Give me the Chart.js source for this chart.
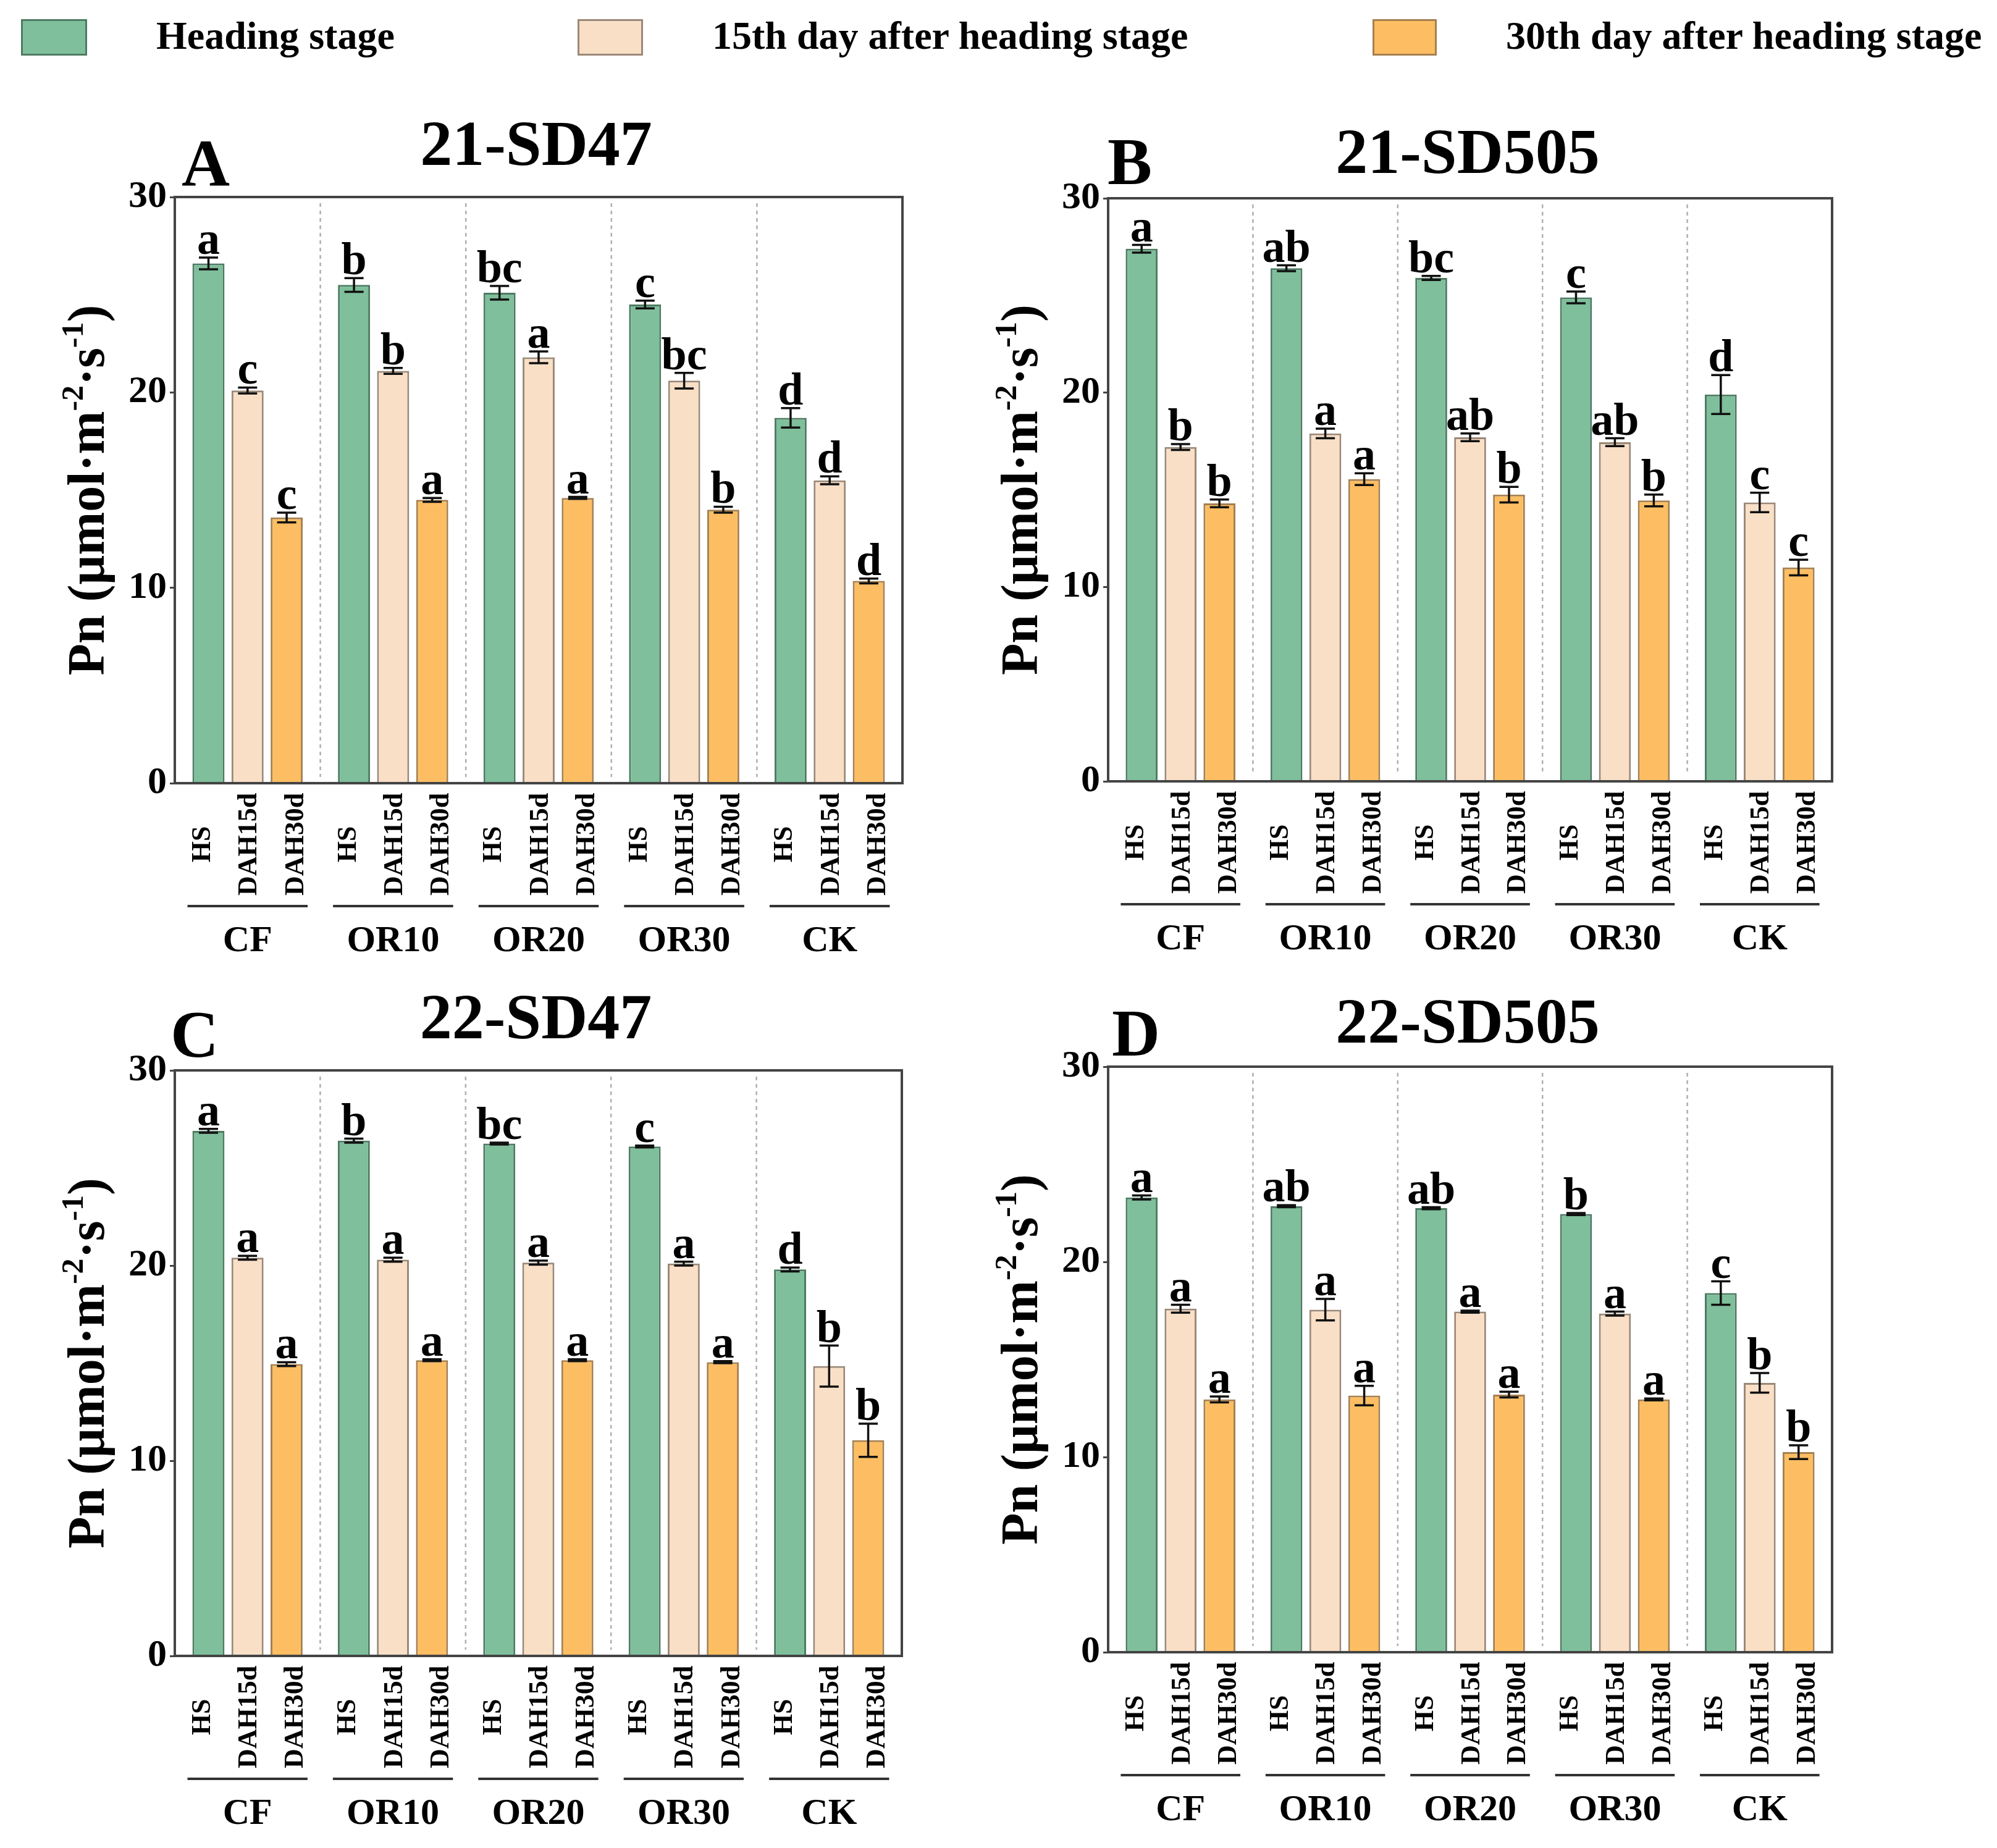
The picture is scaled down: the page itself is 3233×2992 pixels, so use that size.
<!DOCTYPE html>
<html><head><meta charset="utf-8">
<script src="https://cdn.jsdelivr.net/npm/chart.js@4.4.1/dist/chart.umd.min.js"></script>
<style>
html,body{margin:0;padding:0;background:#fff;width:3233px;height:2992px;overflow:hidden;position:relative;}
canvas{position:absolute;}
.lg-box{position:absolute;box-sizing:border-box;border:3px solid;}
.lg-txt{position:absolute;font-family:"Liberation Serif";font-weight:bold;font-size:64px;line-height:64px;color:#000;white-space:nowrap;}
</style></head><body>
<div class="lg-box" style="left:34px;top:31px;width:107px;height:59px;background:#7fbf9b;border-color:#4e7b63"></div>
<div class="lg-txt" style="left:253px;top:26px">Heading stage</div>
<div class="lg-box" style="left:935px;top:31px;width:106px;height:59px;background:#f8dfc6;border-color:#9a8878"></div>
<div class="lg-txt" style="left:1153px;top:26px">15th day after heading stage</div>
<div class="lg-box" style="left:2222px;top:31px;width:104px;height:59px;background:#fdbe63;border-color:#a58050"></div>
<div class="lg-txt" style="left:2438px;top:26px">30th day after heading stage</div>
<script>
// ---- categories & labels ----
const groups = ['CF', 'OR10', 'OR20', 'OR30', 'CK'];
const stages = ['HS', 'DAH15d', 'DAH30d'];
const yTicks = [0, 10, 20, 30];

// ---- Panel A: 21-SD47 ----
const A_HS = [26.6, 25.5, 25.1, 24.5, 18.7];
const A_HS_err = [0.3, 0.35, 0.35, 0.2, 0.5];
const A_D15 = [20.1, 21.1, 21.8, 20.6, 15.5];
const A_D15_err = [0.15, 0.15, 0.3, 0.4, 0.2];
const A_D30 = [13.6, 14.5, 14.6, 14.0, 10.35];
const A_D30_err = [0.25, 0.1, 0.05, 0.15, 0.12];
const A_HS_sig = ['a', 'b', 'bc', 'c', 'd'];
const A_D15_sig = ['c', 'b', 'a', 'bc', 'd'];
const A_D30_sig = ['c', 'a', 'a', 'b', 'd'];

// ---- Panel B: 21-SD505 ----
const B_HS = [27.4, 26.4, 25.9, 24.9, 19.9];
const B_HS_err = [0.2, 0.15, 0.1, 0.3, 1.0];
const B_D15 = [17.2, 17.9, 17.7, 17.45, 14.35];
const B_D15_err = [0.15, 0.25, 0.2, 0.2, 0.5];
const B_D30 = [14.3, 15.55, 14.75, 14.45, 11.0];
const B_D30_err = [0.2, 0.3, 0.4, 0.3, 0.4];
const B_HS_sig = ['a', 'ab', 'bc', 'c', 'd'];
const B_D15_sig = ['b', 'a', 'ab', 'ab', 'c'];
const B_D30_sig = ['b', 'a', 'b', 'b', 'c'];

// ---- Panel C: 22-SD47 ----
const C_HS = [26.9, 26.4, 26.25, 26.1, 19.8];
const C_HS_err = [0.1, 0.1, 0.05, 0.05, 0.1];
const C_D15 = [20.4, 20.3, 20.15, 20.1, 14.85];
const C_D15_err = [0.1, 0.1, 0.1, 0.1, 1.05];
const C_D30 = [14.95, 15.15, 15.15, 15.05, 11.05];
const C_D30_err = [0.1, 0.05, 0.05, 0.05, 0.85];
const C_HS_sig = ['a', 'b', 'bc', 'c', 'd'];
const C_D15_sig = ['a', 'a', 'a', 'a', 'b'];
const C_D30_sig = ['a', 'a', 'a', 'a', 'b'];

// ---- Panel D: 22-SD505 ----
const D_HS = [23.3, 22.85, 22.75, 22.45, 18.4];
const D_HS_err = [0.1, 0.05, 0.05, 0.05, 0.6];
const D_D15 = [17.6, 17.55, 17.45, 17.35, 13.8];
const D_D15_err = [0.2, 0.55, 0.05, 0.1, 0.5];
const D_D30 = [12.95, 13.15, 13.2, 12.95, 10.25];
const D_D30_err = [0.15, 0.5, 0.15, 0.05, 0.35];
const D_HS_sig = ['a', 'ab', 'ab', 'b', 'c'];
const D_D15_sig = ['a', 'a', 'a', 'a', 'b'];
const D_D30_sig = ['a', 'a', 'a', 'a', 'b'];

// ---- styles ----
const fills = ['#7fbf9b', '#f8dfc6', '#fdbe63'];
const borders = ['#4e7b63', '#9a8878', '#a58050'];
const FONT = '"Liberation Serif"';

const panels = [
  { id: 'A', title: '21-SD47', left: 283, right: 1461, top: 319, bottom: 1268, titleDy: -52, letterX: 294, letterDy: -18,
    values: [A_HS, A_D15, A_D30], errs: [A_HS_err, A_D15_err, A_D30_err], sigs: [A_HS_sig, A_D15_sig, A_D30_sig] },
  { id: 'B', title: '21-SD505', left: 1794, right: 2966, top: 321, bottom: 1265, titleDy: -41, letterX: 1793, letterDy: -23,
    values: [B_HS, B_D15, B_D30], errs: [B_HS_err, B_D15_err, B_D30_err], sigs: [B_HS_sig, B_D15_sig, B_D30_sig] },
  { id: 'C', title: '22-SD47', left: 283, right: 1460, top: 1733, bottom: 2681, titleDy: -52, letterX: 276, letterDy: -22,
    values: [C_HS, C_D15, C_D30], errs: [C_HS_err, C_D15_err, C_D30_err], sigs: [C_HS_sig, C_D15_sig, C_D30_sig] },
  { id: 'D', title: '22-SD505', left: 1794, right: 2966, top: 1727, bottom: 2675, titleDy: -39, letterX: 1800, letterDy: -18,
    values: [D_HS, D_D15, D_D30], errs: [D_HS_err, D_D15_err, D_D30_err], sigs: [D_HS_sig, D_D15_sig, D_D30_sig] }
];

const YW = 200, PT = 200, PR = 40, XH = 300;

function makePlugin(cfg) {
  return {
    id: 'panel' + cfg.id,
    beforeDatasetsDraw(chart) {
      const ctx = chart.ctx, ca = chart.chartArea, xs = chart.scales.x;
      ctx.save();
      ctx.strokeStyle = '#b0b0b0';
      ctx.lineWidth = 2.5;
      ctx.setLineDash([6, 6]);
      for (let i = 0; i < groups.length - 1; i++) {
        const x = (xs.getPixelForValue(i) + xs.getPixelForValue(i + 1)) / 2;
        ctx.beginPath();
        ctx.moveTo(x, ca.top + 10);
        ctx.lineTo(x, ca.bottom - 10);
        ctx.stroke();
      }
      ctx.restore();
    },
    afterDatasetsDraw(chart) {
      const ctx = chart.ctx, ca = chart.chartArea, ys = chart.scales.y;
      ctx.save();
      // error bars + letters
      for (let d = 0; d < 3; d++) {
        const meta = chart.getDatasetMeta(d);
        meta.data.forEach((bar, i) => {
          const v = cfg.values[d][i], e = cfg.errs[d][i];
          const yT = ys.getPixelForValue(v + e), yB = ys.getPixelForValue(v - e);
          ctx.strokeStyle = '#111';
          ctx.lineWidth = 3.5;
          ctx.setLineDash([]);
          ctx.beginPath();
          ctx.moveTo(bar.x, yT); ctx.lineTo(bar.x, yB);
          ctx.moveTo(bar.x - 15.5, yT); ctx.lineTo(bar.x + 15.5, yT);
          ctx.moveTo(bar.x - 15.5, yB); ctx.lineTo(bar.x + 15.5, yB);
          ctx.stroke();
          ctx.fillStyle = '#000';
          ctx.font = 'bold 74px ' + FONT;
          ctx.textAlign = 'center';
          ctx.textBaseline = 'alphabetic';
          ctx.fillText(cfg.sigs[d][i], bar.x, yT - 6);
        });
      }
      // frame
      ctx.strokeStyle = '#444';
      ctx.lineWidth = 4;
      ctx.strokeRect(ca.left, ca.top, ca.right - ca.left, ca.bottom - ca.top);
      ctx.restore();
    },
    afterDraw(chart) {
      const ctx = chart.ctx, ca = chart.chartArea, xs = chart.scales.x;
      ctx.save();
      ctx.fillStyle = '#000';
      // title
      ctx.font = 'bold 104px ' + FONT;
      ctx.textAlign = 'center';
      ctx.textBaseline = 'alphabetic';
      ctx.fillText(cfg.title, (ca.left + ca.right) / 2 - 4, ca.top + cfg.titleDy);
      // panel letter
      ctx.font = 'bold 108px ' + FONT;
      ctx.textAlign = 'left';
      ctx.fillText(cfg.id, cfg.letterX - (cfg.left - YW), ca.top + cfg.letterDy);
      // y-axis title with superscripts
      const segs = [['Pn (μmol·m', false], ['-2', true], ['·s', false], ['-1', true], [')', false]];
      const big = 'bold 84px ' + FONT, small = 'bold 50px ' + FONT;
      let total = 0;
      segs.forEach(s => { ctx.font = s[1] ? small : big; total += ctx.measureText(s[0]).width; });
      ctx.translate(ca.left - 115, (ca.top + ca.bottom) / 2);
      ctx.rotate(-Math.PI / 2);
      let cx = -total / 2;
      ctx.textAlign = 'left';
      segs.forEach(s => {
        ctx.font = s[1] ? small : big;
        ctx.fillText(s[0], cx, s[1] ? -34 : 0);
        cx += ctx.measureText(s[0]).width;
      });
      ctx.restore();

      // x labels
      ctx.save();
      ctx.fillStyle = '#000';
      const metas = [0, 1, 2].map(d => chart.getDatasetMeta(d));
      for (let i = 0; i < groups.length; i++) {
        for (let d = 0; d < 3; d++) {
          const bar = metas[d].data[i];
          const x = bar.x + (d - 1) * 12;
          ctx.save();
          ctx.translate(x + 14.5, ca.bottom + 99);
          ctx.rotate(-Math.PI / 2);
          ctx.font = 'bold 44px ' + FONT;
          ctx.textAlign = 'center';
          ctx.textBaseline = 'alphabetic';
          ctx.fillText(stages[d], 0, 0);
          ctx.restore();
        }
        const b0 = metas[0].data[i], b2 = metas[2].data[i];
        ctx.strokeStyle = '#333';
        ctx.lineWidth = 4;
        ctx.beginPath();
        ctx.moveTo(b0.x - b0.width / 2 - 8, ca.bottom + 199);
        ctx.lineTo(b2.x + b2.width / 2 + 8, ca.bottom + 199);
        ctx.stroke();
        ctx.font = 'bold 60px ' + FONT;
        ctx.textAlign = 'center';
        ctx.fillText(groups[i], xs.getPixelForValue(i), ca.bottom + 272);
      }
      ctx.restore();
    }
  };
}

panels.forEach(cfg => {
  const plotW = cfg.right - cfg.left, plotH = cfg.bottom - cfg.top;
  const W = YW + plotW + PR, H = PT + plotH + XH;
  const canvas = document.createElement('canvas');
  canvas.width = W; canvas.height = H;
  canvas.style.left = (cfg.left - YW) + 'px';
  canvas.style.top = (cfg.top - PT) + 'px';
  canvas.style.width = W + 'px';
  canvas.style.height = H + 'px';
  document.body.appendChild(canvas);
  new Chart(canvas, {
    type: 'bar',
    data: {
      labels: groups,
      datasets: stages.map((s, d) => ({
        label: s,
        data: cfg.values[d],
        backgroundColor: fills[d],
        borderColor: borders[d],
        borderWidth: 3,
        categoryPercentage: 0.806,
        barPercentage: 0.82
      }))
    },
    options: {
      responsive: false,
      animation: false,
      devicePixelRatio: 1,
      layout: { padding: { left: 0, top: PT, right: PR, bottom: 0 } },
      plugins: { legend: { display: false }, tooltip: { enabled: false }, title: { display: false } },
      scales: {
        x: {
          type: 'category',
          offset: true,
          grid: { display: false },
          border: { display: false },
          ticks: { display: false },
          afterFit: (s) => { s.height = XH; }
        },
        y: {
          min: 0, max: 30,
          afterBuildTicks: (s) => { s.ticks = yTicks.map(v => ({ value: v })); },
          ticks: { color: '#000', padding: 5, font: { family: 'Liberation Serif', size: 62, weight: 'bold' } },
          grid: { drawOnChartArea: false, drawTicks: true, tickLength: 8, color: '#444', lineWidth: 3 },
          border: { display: false },
          afterFit: (s) => { s.width = YW; }
        }
      }
    },
    plugins: [makePlugin(cfg)]
  });
});
</script>
</body></html>
